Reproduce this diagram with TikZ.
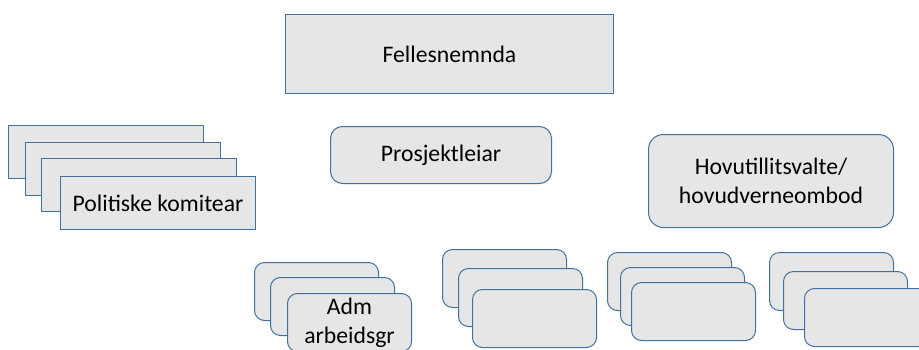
\documentclass[tikz,border=0pt]{standalone}
\usepackage{fontspec}
\setmainfont{Carlito}
\definecolor{boxfill}{HTML}{E6E6E6}
\definecolor{boxline}{HTML}{41719C}

\begin{document}
\begin{tikzpicture}[x=1pt, y=-1pt,
    every node/.style={font=\fontsize{23.7}{29}\selectfont, align=center},
    plainbox/.style={draw=boxline, fill=boxfill, line width=1pt,
      anchor=north west, inner sep=0pt},
    komite/.style={plainbox, minimum width=195pt, minimum height=53pt},
    gruppe/.style={plainbox, rounded corners=10pt, minimum width=124pt,
      minimum height=58pt}]
  \useasboundingbox (0,0) rectangle (919,349);

  \node[plainbox, minimum width=328pt, minimum height=79pt] (felles) at (285,14) {Fellesnemnda};

  % politiske komitear
  \foreach \i/\x/\y/\lab in {%
    1/8/125/{},%
    2/25/142/{},%
    3/41/158/{},%
    4/60/176/{Politiske komitear}%
  }{ \node[komite] (kom\i) at (\x,\y) {\lab}; }

  \node[plainbox, rounded corners=12pt, minimum width=221pt, minimum height=57pt] (leiar) at (330,126) {Prosjektleiar};
  \node[plainbox, rounded corners=15pt, minimum width=245pt, minimum height=93pt] (tillit) at (648,134) {Hovutillitsvalte/\\hovudverneombod};

  % arbeidsgrupper
  \foreach \i/\x/\y/\lab in {%
    a1/254/262/{}, a2/270/277/{}, a3/287/293/{Adm\\arbeidsgr},%
    b1/442/249/{}, b2/458/268/{}, b3/472/289/{},%
    c1/607/252/{}, c2/620/267/{}, c3/631/282/{},%
    d1/769/252/{}, d2/783/271/{}, d3/804/288/{}%
  }{ \node[gruppe] (\i) at (\x,\y) {\lab}; }
\end{tikzpicture}
\end{document}
